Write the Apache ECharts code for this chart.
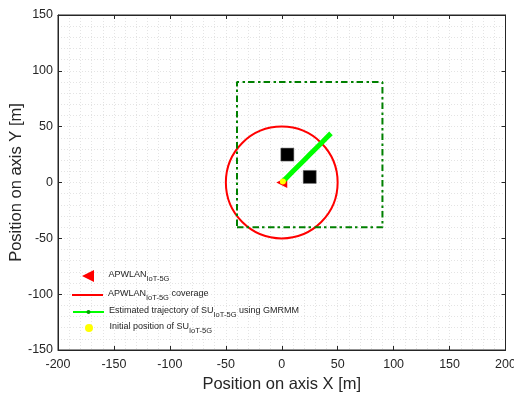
<!DOCTYPE html>
<html>
<head>
<meta charset="utf-8">
<script src="https://cdn.jsdelivr.net/npm/echarts@6/dist/echarts.min.js"></script>
<style>html,body{margin:0;padding:0;background:#fff}#c{width:514px;height:393px}</style>
</head>
<body>
<div id="c"></div>
<script>
// ---- data ----
const xTicks = [-200, -150, -100, -50, 0, 50, 100, 150, 200];
const yTicks = [-150, -100, -50, 0, 50, 100, 150];
const apPosition = [[0, 0]];
const coverageCircle = [[0, 0, 50]]; // centre x, centre y, radius
const areaX = [-40, 90, 90, -40, -40];
const areaY = [-40, -40, 90, 90, -40];
const obstacleX = [5, 25];
const obstacleY = [25, 5];
const trajX = [1, 5, 10, 15, 20, 25, 30, 35, 40, 44];
const trajY = [1, 5, 10, 15, 20, 25, 30, 35, 40, 44];
const initialPos = [[1, 1]];

const FONT = "'Liberation Sans', Arial, Helvetica, sans-serif";
const TXT = '#262626';
const triPath = 'path://M0,5L10,0L10,10Z';

const rich = {
  m: {fontFamily: FONT, fontSize: 9, color: TXT, padding: [0, 0, 3, 0]},
  s: {fontFamily: FONT, fontSize: 7.5, color: TXT, padding: [6, 0, 0, 0]}
};
const labels = {
  APWLAN: '{m|APWLAN}{s|IoT-5G}',
  coverage: '{m|APWLAN}{s|IoT-5G}{m| coverage}',
  trajectory: '{m|Estimated trajectory of SU}{s|IoT-5G}{m| using GMRMM}',
  initial: '{m|Initial position of SU}{s|IoT-5G}'
};
function mkLegend(name, left, top, iw, ih, icon) {
  const d = {name: name};
  if (icon) d.icon = icon;
  return {
    show: true, orient: 'vertical', left: left, top: top,
    itemWidth: iw, itemHeight: ih, padding: 0, selectedMode: false,
    data: [d],
    formatter: n => labels[n],
    textStyle: {rich: rich, fontFamily: FONT, fontSize: 9, color: TXT}
  };
}

const gridLine = {show: true, lineStyle: {color: '#e4e4e4', type: [1, 2], width: 1}};

const option = {
  backgroundColor: '#fff',
  animation: false,
  grid: {left: 58, right: 8.5, top: 15, bottom: 43, containLabel: false, outerBoundsMode: 'none',
    show: true, borderColor: TXT, borderWidth: 1, backgroundColor: 'transparent'},
  legend: [
    mkLegend('APWLAN', 82, 270, 31, 12, triPath),
    mkLegend('coverage', 72, 289, 31, 2, 'path://M0,0L31,0L31,2L0,2Z'),
    mkLegend('trajectory', 72, 306, 31, 5),
    mkLegend('initial', 85, 322, 31, 8, 'circle')
  ],
  xAxis: [{
    type: 'value', min: xTicks[0], max: xTicks[xTicks.length - 1], interval: 50,
    position: 'bottom',
    name: 'Position on axis X [m]', nameLocation: 'middle', nameGap: 26, nameMoveOverlap: false,
    nameTextStyle: {fontFamily: FONT, fontSize: 16.5, color: TXT},
    axisLine: {show: true, onZero: false, lineStyle: {color: TXT, width: 1}},
    axisTick: {show: true, inside: true, length: 4, lineStyle: {color: TXT}},
    axisLabel: {fontFamily: FONT, fontSize: 12.5, color: TXT, margin: 8.5, showMinLabel: true, showMaxLabel: true},
    splitLine: gridLine,
    minorTick: {show: false, splitNumber: 5},
    minorSplitLine: gridLine
  }, {
    type: 'value', min: xTicks[0], max: xTicks[xTicks.length - 1], interval: 50,
    position: 'top',
    axisLine: {show: true, onZero: false, lineStyle: {color: TXT, width: 1}},
    axisTick: {show: true, inside: true, length: 4, lineStyle: {color: TXT}},
    axisLabel: {show: false}, splitLine: {show: false}
  }],
  yAxis: [{
    type: 'value', min: yTicks[0], max: yTicks[yTicks.length - 1], interval: 50,
    position: 'left',
    name: 'Position on axis Y [m]', nameLocation: 'middle', nameGap: 33, nameMoveOverlap: false,
    nameTextStyle: {fontFamily: FONT, fontSize: 16.5, color: TXT},
    axisLine: {show: true, onZero: false, lineStyle: {color: TXT, width: 1}},
    axisTick: {show: true, inside: true, length: 4, lineStyle: {color: TXT}},
    axisLabel: {fontFamily: FONT, fontSize: 12.5, color: TXT, margin: 5, showMinLabel: true, showMaxLabel: true},
    splitLine: gridLine,
    minorTick: {show: false, splitNumber: 5},
    minorSplitLine: gridLine
  }, {
    type: 'value', min: yTicks[0], max: yTicks[yTicks.length - 1], interval: 50,
    position: 'right',
    axisLine: {show: true, onZero: false, lineStyle: {color: TXT, width: 1}},
    axisTick: {show: true, inside: true, length: 4, lineStyle: {color: TXT}},
    axisLabel: {show: false}, splitLine: {show: false}
  }],
  series: [
    {
      name: 'coverage', type: 'custom', z: 3,
      data: coverageCircle,
      itemStyle: {color: '#ff0000'},
      renderItem: function (params, api) {
        const c = api.coord([api.value(0), api.value(1)]);
        const s = api.size([api.value(2), api.value(2)]);
        return {
          type: 'circle',
          shape: {cx: c[0], cy: c[1], r: (s[0] + s[1]) / 2},
          style: {fill: 'none', stroke: '#ff0000', lineWidth: 2}
        };
      }
    },
    {
      name: 'area', type: 'line', z: 4,
      data: areaX.map((x, i) => [x, areaY[i]]),
      symbol: 'none',
      lineStyle: {color: '#008000', width: 2, type: [6.5, 3, 2.5, 3.5]}
    },
    {
      name: 'obstacles', type: 'scatter', z: 5,
      data: obstacleX.map((x, i) => [x, obstacleY[i]]),
      symbol: 'rect', symbolSize: 13,
      itemStyle: {color: '#000000', borderColor: '#666', borderWidth: 0.5, opacity: 1}
    },
    {
      name: 'APWLAN', type: 'scatter', z: 6,
      data: apPosition,
      symbol: triPath, symbolSize: [11, 11], symbolKeepAspect: false,
      itemStyle: {color: '#ff0000', opacity: 1}
    },
    {
      name: 'trajectory', type: 'line', z: 7,
      data: trajX.map((x, i) => [x, trajY[i]]),
      symbol: 'circle', symbolSize: 3, showSymbol: false,
      itemStyle: {color: '#00a000'},
      lineStyle: {color: '#00ff00', width: 5}
    },
    {
      name: 'initial', type: 'scatter', z: 8,
      data: initialPos,
      symbol: 'circle', symbolSize: 6,
      itemStyle: {color: '#ffff00', opacity: 1}
    }
  ]
};
const chart = echarts.init(document.getElementById('c'), null, {renderer: 'canvas'});
chart.setOption(option);
</script>
</body>
</html>
